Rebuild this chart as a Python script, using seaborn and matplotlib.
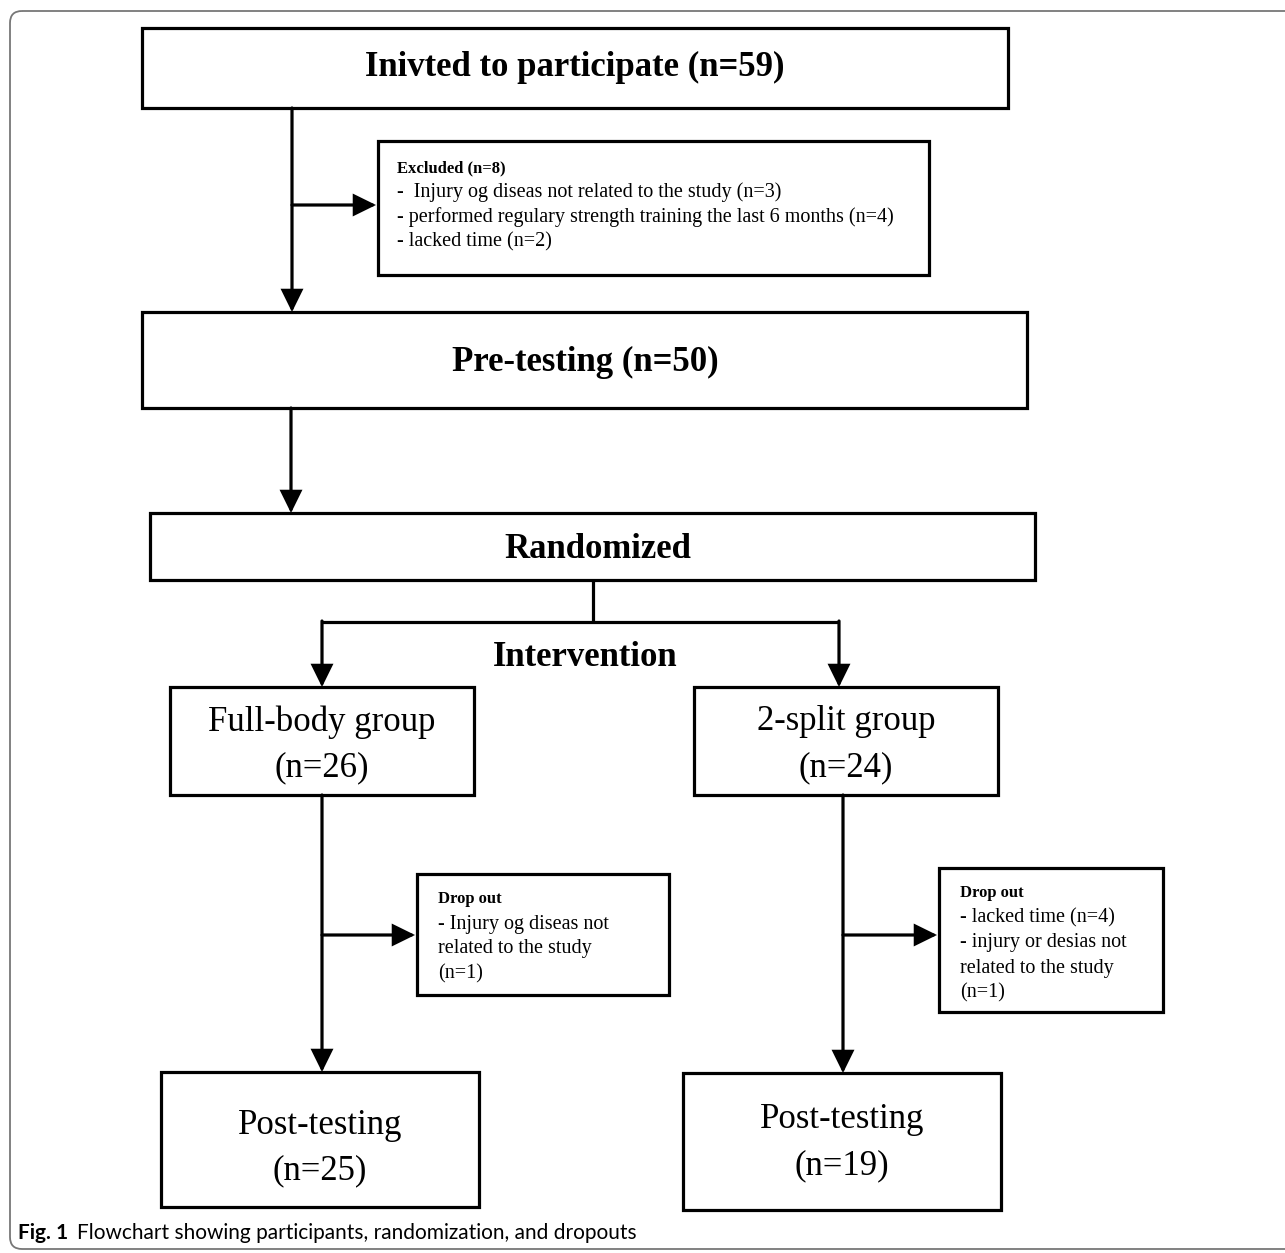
import matplotlib
matplotlib.use("Agg")
import matplotlib.pyplot as plt
import seaborn as sns
from matplotlib.patches import Rectangle, FancyBboxPatch

sns.set_theme(style="white")
plt.rcParams['font.family'] = ['Liberation Serif', 'DejaVu Serif']
plt.rcParams['text.color'] = 'black'

# ---- flow data (labels and counts) ----
n_invited = 59
n_excluded = 8
excl_reasons = ["Injury og diseas not related to the study",
                "performed regulary strength training the last 6 months",
                "lacked time"]
excl_counts = [3, 4, 2]
n_pretest = 50
group_names = ["Full-body group", "2-split group"]
group_n = [26, 24]
drop_left = ["- Injury og diseas not", "related to the study", "(n=1)"]
drop_right = ["- lacked time (n=4)", "- injury or desias not", "related to the study", "(n=1)"]
post_n = [25, 19]
caption_bold = "Fig. 1"
caption_text = "Flowchart showing participants, randomization, and dropouts"

W, H = 1285, 1253
fig = plt.figure(figsize=(W / 100, H / 100), dpi=100)
ax = fig.add_axes([0, 0, 1, 1])
ax.set_xlim(0, W)
ax.set_ylim(H, 0)
ax.axis('off')

LW = 2.3

def box(x0, y0, x1, y1):
    ax.add_patch(Rectangle((x0, y0), x1 - x0, y1 - y0, fill=False,
                           lw=LW, ec='black', joinstyle='miter'))

def line(x0, y0, x1, y1):
    ax.plot([x0, x1], [y0, y1], color='black', lw=LW, solid_capstyle='butt')

def arrow(x0, y0, x1, y1):
    ax.annotate("", xy=(x1, y1), xytext=(x0, y0),
                arrowprops=dict(arrowstyle="-|>,head_length=0.65,head_width=0.32",
                                mutation_scale=20, lw=LW, color='black',
                                shrinkA=0, shrinkB=0, joinstyle='miter'))

# outer frame (rounded, open to the right)
ax.add_patch(FancyBboxPatch((10, 11), 1400, 1238,
                            boxstyle="round,pad=0,rounding_size=12",
                            fill=False, ec='#777777', lw=1.3))

# invited
box(142, 28, 1008, 108)
ax.text(575, 67, f"Inivted to participate (n={n_invited})", ha='center', va='center',
        fontsize=25, fontweight='bold')
arrow(292, 108, 292, 312)
arrow(292, 205, 376, 205)

# excluded box
box(378, 141, 929, 275)
ax.text(397, 168, f"Excluded (n={n_excluded})", ha='left', va='center',
        fontsize=12, fontweight='bold')
for i, (r, c) in enumerate(zip(excl_reasons, excl_counts)):
    pre = "-  " if i == 0 else "- "
    ax.text(397, 192 + 25 * i, f"{pre}{r} (n={c})", ha='left', va='center', fontsize=14.5)

# pre-testing
box(142, 312, 1027, 408)
ax.text(585, 362, f"Pre-testing (n={n_pretest})", ha='center', va='center',
        fontsize=25, fontweight='bold')
arrow(291, 408, 291, 513)

# randomized
box(150, 513, 1035, 580)
ax.text(598, 550, "Randomized", ha='center', va='center', fontsize=25, fontweight='bold')
line(593, 580, 593, 622)
line(322, 622, 839, 622)
arrow(322, 621, 322, 687)
arrow(839, 621, 839, 687)
ax.text(585, 657, "Intervention", ha='center', va='center', fontsize=25, fontweight='bold')

# group boxes
gx = [(170, 474), (694, 998)]
for (x0, x1), name, n in zip(gx, group_names, group_n):
    box(x0, 687, x1, 795)
    xc = (x0 + x1) / 2
    ax.text(xc, 722, name, ha='center', va='center', fontsize=25)
    ax.text(xc, 768, f"(n={n})", ha='center', va='center', fontsize=25)

# vertical flow to post-testing with drop-out branches
arrow(322, 795, 322, 1072)
arrow(322, 935, 415, 935)
arrow(843, 795, 843, 1073)
arrow(843, 935, 937, 935)

# drop out boxes
box(417, 874, 669, 995)
ax.text(438, 899, "Drop out", ha='left', va='center', fontsize=12, fontweight='bold')
for i, t in enumerate(drop_left):
    ax.text(438, 924 + 25 * i, t, ha='left', va='center', fontsize=14.5)

box(939, 868, 1163, 1012)
ax.text(960, 893, "Drop out", ha='left', va='center', fontsize=12, fontweight='bold')
for i, t in enumerate(drop_right):
    ax.text(960, 918 + 25 * i, t, ha='left', va='center', fontsize=14.5)

# post-testing boxes
px = [(161, 479), (683, 1001)]
py = [(1072, 1207), (1073, 1210)]
ty = [(1126, 1171), (1119, 1166)]
for (x0, x1), (y0, y1), (t1, t2), n in zip(px, py, ty, post_n):
    box(x0, y0, x1, y1)
    xc = (x0 + x1) / 2
    ax.text(xc, t1, "Post-testing", ha='center', va='center', fontsize=25)
    ax.text(xc, t2, f"(n={n})", ha='center', va='center', fontsize=25)

# caption
cap = ax.text(18, 1233, caption_bold, ha='left', va='center', fontsize=15,
              fontweight='bold', family=['Lato', 'DejaVu Sans'])
fig.canvas.draw()
bb = cap.get_window_extent()
x_end = ax.transData.inverted().transform((bb.x1, bb.y0))[0]
ax.text(x_end + 9, 1233, caption_text, ha='left', va='center', fontsize=15,
        family=['Lato', 'DejaVu Sans'])

fig.savefig("out.png", dpi=100, facecolor='white')
